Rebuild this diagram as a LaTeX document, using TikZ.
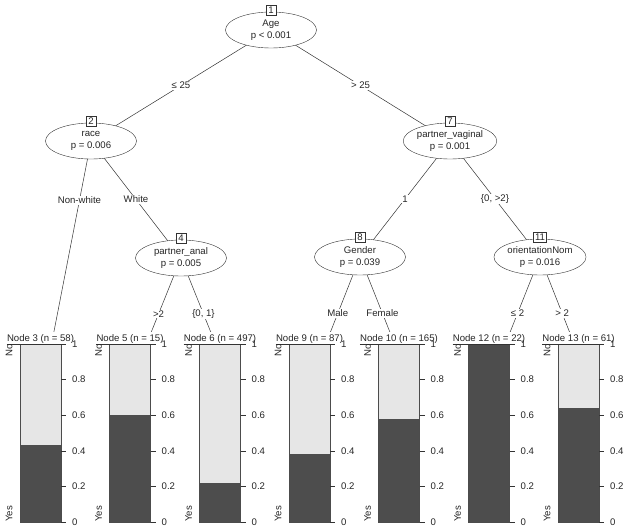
\documentclass[tikz,border=0pt]{standalone}
\usepackage{fontspec}
\setmainfont{Liberation Sans}
\usetikzlibrary{shapes.geometric,backgrounds}

\definecolor{barDark}{HTML}{4D4D4D}
\definecolor{barLight}{HTML}{E6E6E6}

\begin{document}
\begin{tikzpicture}[
  x=1pt, y=-1pt,
  font=\fontsize{9.6}{12}\selectfont,
  split/.style={ellipse, draw=black!80, fill=white, minimum width=91pt, minimum height=36pt, inner sep=0pt, align=center, text=black!85},
  idbox/.style={rectangle, draw=black!80, fill=white, minimum width=10pt, minimum height=10pt, inner sep=1.5pt, text=black!85},
  elab/.style={fill=white, inner sep=1pt, text=black!85},
  edge/.style={draw=black!80, line width=0.5pt}
]
\useasboundingbox (0,0) rectangle (629,531);

% Terminal panels
\foreach \id/\px/\n/\val in {3/46.5/58/0.43, 5/136/15/0.60, 6/226/497/0.22, 9/315.5/87/0.38, 10/405/165/0.58, 12/495/22/1.00, 13/584.5/61/0.64}{
  \coordinate (t\id) at (\px,370);
  \fill[white] (\px-42,332) rectangle (\px+42,531);
  \fill[barLight] (\px-26.5,344) rectangle (\px+14.5,522);
  \fill[barDark] (\px-26.5,522) rectangle (\px+14.5,522-178*\val);
  \draw[black!70, line width=0.5pt] (\px-26.5,344) rectangle (\px+14.5,522);
  \node[anchor=south, inner sep=0pt, text=black!85] (h\id) at (\px-6,344) {Node \id{} (n = \n)};
  \draw[black!80, line width=0.5pt] (h\id.south west) -- (\px+14.5,344);
  \node[rotate=90, anchor=east, inner sep=0pt, text=black!85] at (\px-37.5,344) {No};
  \node[rotate=90, anchor=west, inner sep=0pt, text=black!85] at (\px-37.5,522) {Yes};
  \foreach \k in {0, 0.2, 0.4, 0.6, 0.8, 1}{
    \draw[black!80, line width=0.5pt] (\px+14.5,522-178*\k) -- ++(5,0);
    \node[anchor=west, inner sep=0pt, text=black!85] at (\px+25.5,522-178*\k) {\k};
  }
}

% Inner nodes
\node[split] (n1) at (271,30) {Age\\p < 0.001};
\node[split] (n2) at (91,141) {race\\p = 0.006};
\node[split] (n4) at (181,258) {partner\_anal\\p = 0.005};
\node[split] (n7) at (450,141) {partner\_vaginal\\p = 0.001};
\node[split] (n8) at (360,257) {Gender\\p = 0.039};
\node[split] (n11) at (540,257) {orientationNom\\p = 0.016};

% Node numbers
\node[idbox] (b1) at ([yshift=1.5pt]n1.north) {1};
\node[idbox] (b2) at ([yshift=1.5pt]n2.north) {2};
\node[idbox] (b4) at ([yshift=1.5pt]n4.north) {4};
\node[idbox] (b7) at ([yshift=1.5pt]n7.north) {7};
\node[idbox] (b8) at ([yshift=1.5pt]n8.north) {8};
\node[idbox] (b11) at ([yshift=1.5pt]n11.north) {11};

% Edges
\begin{pgfonlayer}{background}
\draw[edge] (n1.center) -- node[elab] {≤ 25} (n2.center);
\draw[edge] (n1.center) -- node[elab] {> 25} (n7.center);
\draw[edge] (n2.center) -- node[elab, pos=0.26] {Non-white} (t3);
\draw[edge] (n2.center) -- node[elab] {White} (n4.center);
\draw[edge] (n4.center) -- node[elab] {>2} (t5);
\draw[edge] (n4.center) -- node[elab] {\{0, 1\}} (t6);
\draw[edge] (n7.center) -- node[elab] {1} (n8.center);
\draw[edge] (n7.center) -- node[elab] {\{0, >2\}} (n11.center);
\draw[edge] (n8.center) -- node[elab] {Male} (t9);
\draw[edge] (n8.center) -- node[elab] {Female} (t10);
\draw[edge] (n11.center) -- node[elab] {≤ 2} (t12);
\draw[edge] (n11.center) -- node[elab] {> 2} (t13);
\end{pgfonlayer}
\end{tikzpicture}
\end{document}
